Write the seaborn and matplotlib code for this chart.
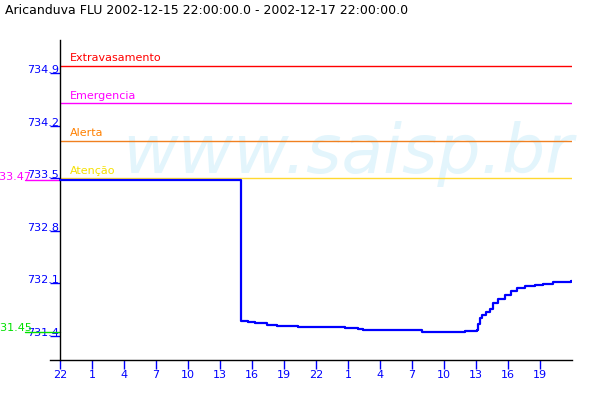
import numpy as np
import pandas as pd
import matplotlib
matplotlib.use("Agg")
import matplotlib.pyplot as plt
import seaborn as sns

# hours since 2002-12-15 22:00 and water level (m)
horas = [0, 17.0, 17.66, 18.28, 19.38, 20.31, 22.34, 26.72, 27.97, 28.44, 33.9,
         37.97, 39.06, 39.2, 39.4, 39.6, 39.94, 40.31, 40.6, 41.1, 41.7, 42.3,
         42.8, 43.6, 44.5, 45.3, 46.25, 47.2, 47.9, 48.0]
nivel = [733.47, 731.60, 731.585, 731.565, 731.545, 731.53, 731.52, 731.505, 731.49,
         731.48, 731.45, 731.465, 731.47, 731.555, 731.63, 731.68, 731.72, 731.76,
         731.83, 731.885, 731.947, 731.99, 732.03, 732.06, 732.07, 732.09, 732.11,
         732.12, 732.13, 732.13]

limites_nome = ["Extravasamento", "Emergencia", "Alerta", "Atenção"]
limites_valor = [735.0, 734.5, 734.0, 733.5]
limites_cor = ["#FF0000", "#FF00FF", "#F08020", "#FFD830"]
limites_cor_txt = ["#FF0000", "#FF00FF", "#FF8000", "#F5E000"]

max_valor = 733.47
min_valor = 731.45

ytick_val = [734.9, 734.2, 733.5, 732.8, 732.1, 731.4]
xtick_val = list(range(0, 48, 3))
xtick_lab = [str((22 + h) % 24) for h in xtick_val]

df = pd.DataFrame({"hora": horas, "nivel": nivel})

sns.set_theme(style="white")
plt.rcParams["font.family"] = ["DejaVu Sans"]

fig = plt.figure(figsize=(6, 4), dpi=100)
ax = fig.add_axes([50 / 600, 0.1, 522 / 600, 0.8])

ax.text(122 / 600, 1 - 173 / 400, "www.saisp.br", transform=fig.transFigure,
        fontsize=49, style="italic", color="#E3F5FC", va="baseline", ha="left", zorder=0)

for nome, val, cor, cor_txt in zip(limites_nome, limites_valor, limites_cor, limites_cor_txt):
    ax.hlines(val, 0, 48, color=cor, lw=1, zorder=2)
    ax.annotate(nome, xy=(0.94, val), xytext=(0, 3), textcoords="offset points",
                color=cor_txt, fontsize=8, va="baseline", ha="left")

sns.lineplot(data=df, x="hora", y="nivel", ax=ax, color="#0000FF", lw=1.6,
             drawstyle="steps-post", zorder=3)

# max / min markers on the left
ax.plot([-3.28, 0], [max_valor, max_valor], color="#FF00FF", lw=1, clip_on=False)
ax.text(-2.7, max_valor, f"{max_valor:.2f}", color="#FF00FF", fontsize=8,
        ha="right", va="baseline", clip_on=False)
ax.plot([-3.28, 0], [min_valor, min_valor], color="#00E000", lw=1, clip_on=False)
ax.text(-2.6, min_valor + 0.01, f"{min_valor:.2f}", color="#00E000", fontsize=8,
        ha="right", va="baseline", clip_on=False)

ax.set_xlim(-0.9375, 48)
ax.set_ylim(731.077, 735.34)
ax.set_xticks(xtick_val)
ax.set_xticklabels(xtick_lab)
ax.set_yticks(ytick_val)
ax.set_yticklabels([f"{v:.1f}" for v in ytick_val])
ax.set_xlabel("")
ax.set_ylabel("")

for s in ["top", "right"]:
    ax.spines[s].set_visible(False)
ax.spines["left"].set_position(("data", 0))
for s in ["left", "bottom"]:
    ax.spines[s].set_color("black")
    ax.spines[s].set_linewidth(1)

ax.tick_params(axis="x", direction="out", length=6.5, width=1, color="#0000FF",
               labelcolor="#0000FF", labelsize=8, pad=1, bottom=True)
ax.tick_params(axis="y", direction="out", length=7, width=1, color="#0000FF",
               labelcolor="#0000FF", labelsize=8, pad=-6.5, left=True)
for lbl in ax.get_yticklabels():
    lbl.set_va("baseline")

fig.text(5 / 600, 1 - 11 / 400, "Aricanduva FLU 2002-12-15 22:00:00.0 - 2002-12-17 22:00:00.0",
         fontsize=9, color="black", ha="left", va="center")

fig.savefig("out.png", dpi=100)
